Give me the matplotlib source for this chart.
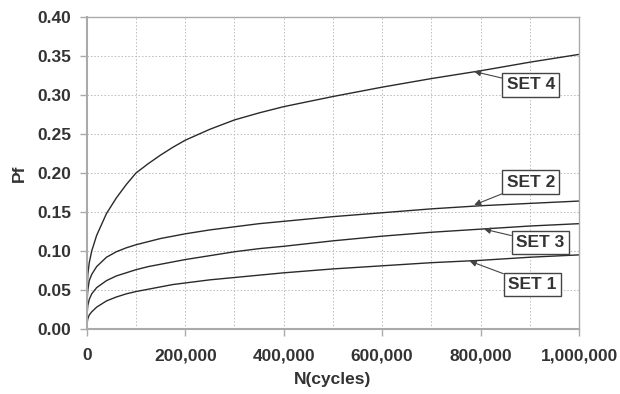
import matplotlib.pyplot as plt
from matplotlib.ticker import FuncFormatter, MultipleLocator

# cycles (x) and failure probability
cycles = [0, 2e3, 5e3, 1e4, 2e4, 4e4, 6e4, 8e4, 1e5, 1.25e5, 1.5e5, 1.75e5, 2e5,
          2.5e5, 3e5, 3.5e5, 4e5, 5e5, 6e5, 7e5, 8e5, 9e5, 1e6]
set4 = [0.040, 0.070, 0.085, 0.100, 0.120, 0.148, 0.168, 0.185, 0.200, 0.212,
        0.223, 0.233, 0.242, 0.256, 0.268, 0.277, 0.285, 0.298, 0.310, 0.321,
        0.331, 0.342, 0.352]
set2 = [0.030, 0.050, 0.062, 0.070, 0.080, 0.092, 0.099, 0.104, 0.108, 0.112,
        0.116, 0.119, 0.122, 0.127, 0.131, 0.135, 0.138, 0.144, 0.149, 0.154,
        0.158, 0.161, 0.164]
set3 = [0.015, 0.030, 0.038, 0.045, 0.053, 0.062, 0.068, 0.072, 0.076, 0.080,
        0.083, 0.086, 0.089, 0.094, 0.099, 0.103, 0.106, 0.113, 0.119, 0.124,
        0.128, 0.132, 0.135]
set1 = [0.005, 0.013, 0.018, 0.022, 0.028, 0.036, 0.041, 0.045, 0.048, 0.051,
        0.054, 0.057, 0.059, 0.063, 0.066, 0.069, 0.072, 0.077, 0.081, 0.085,
        0.088, 0.092, 0.095]

# label text, point on curve, label position
labels = ["SET 4", "SET 2", "SET 3", "SET 1"]
label_pts = [(787e3, 0.330), (787e3, 0.159), (807e3, 0.128), (778e3, 0.087)]
label_pos = [(902e3, 0.313), (902e3, 0.188), (921e3, 0.111), (905e3, 0.057)]

plt.rcParams['font.family'] = ['Liberation Sans', 'DejaVu Sans']
txt = '#333333'

fig = plt.figure(figsize=(6.2, 3.94), dpi=100)
ax = fig.add_axes([0.140, 0.165, 0.794, 0.792])

for s in (set4, set2, set3, set1):
    ax.plot(cycles, s, color='#2a2a2a', lw=1.0)

for lab, pt, pos in zip(labels, label_pts, label_pos):
    ax.annotate(lab, xy=pt, xytext=pos, ha='center', va='center',
                fontsize=12.5, fontweight='bold', color=txt,
                bbox=dict(boxstyle='square,pad=0.25', fc='white', ec='#444444', lw=1.0),
                arrowprops=dict(arrowstyle='-|>,head_length=0.3,head_width=0.15',
                                color='#444444', lw=0.8, shrinkA=0, shrinkB=0))

ax.set_xlim(0, 1e6)
ax.set_ylim(0, 0.40)
ax.xaxis.set_major_locator(MultipleLocator(2e5))
ax.xaxis.set_minor_locator(MultipleLocator(1e5))
ax.yaxis.set_major_locator(MultipleLocator(0.05))
ax.xaxis.set_major_formatter(FuncFormatter(lambda v, p: f"{int(v):,}"))
ax.yaxis.set_major_formatter(FuncFormatter(lambda v, p: f"{v:.2f}"))

ax.grid(True, which='both', axis='x', ls=(0, (1.5, 2)), color='#bbbbbb', lw=0.7)
ax.grid(True, which='major', axis='y', ls=(0, (1.5, 2)), color='#bbbbbb', lw=0.7)
ax.set_axisbelow(True)

for sp in ax.spines.values():
    sp.set_color('#aaaaaa')
    sp.set_linewidth(1.0)
ax.spines['bottom'].set_linewidth(1.5)
ax.spines['left'].set_linewidth(1.5)

ax.tick_params(axis='both', which='major', labelsize=12.5, colors='#aaaaaa',
               labelcolor=txt, length=5, width=1.0, direction='out')
ax.tick_params(axis='x', which='major', pad=9)
ax.tick_params(axis='y', which='major', pad=6)
ax.tick_params(axis='x', which='minor', length=0)
for t in ax.get_xticklabels() + ax.get_yticklabels():
    t.set_fontweight('bold')

ax.set_xlabel("N(cycles)", fontsize=12.5, fontweight='bold', color=txt, labelpad=6)
ax.set_ylabel("Pf", fontsize=12.5, fontweight='bold', color=txt, labelpad=8)

fig.savefig("out.png", dpi=100)
